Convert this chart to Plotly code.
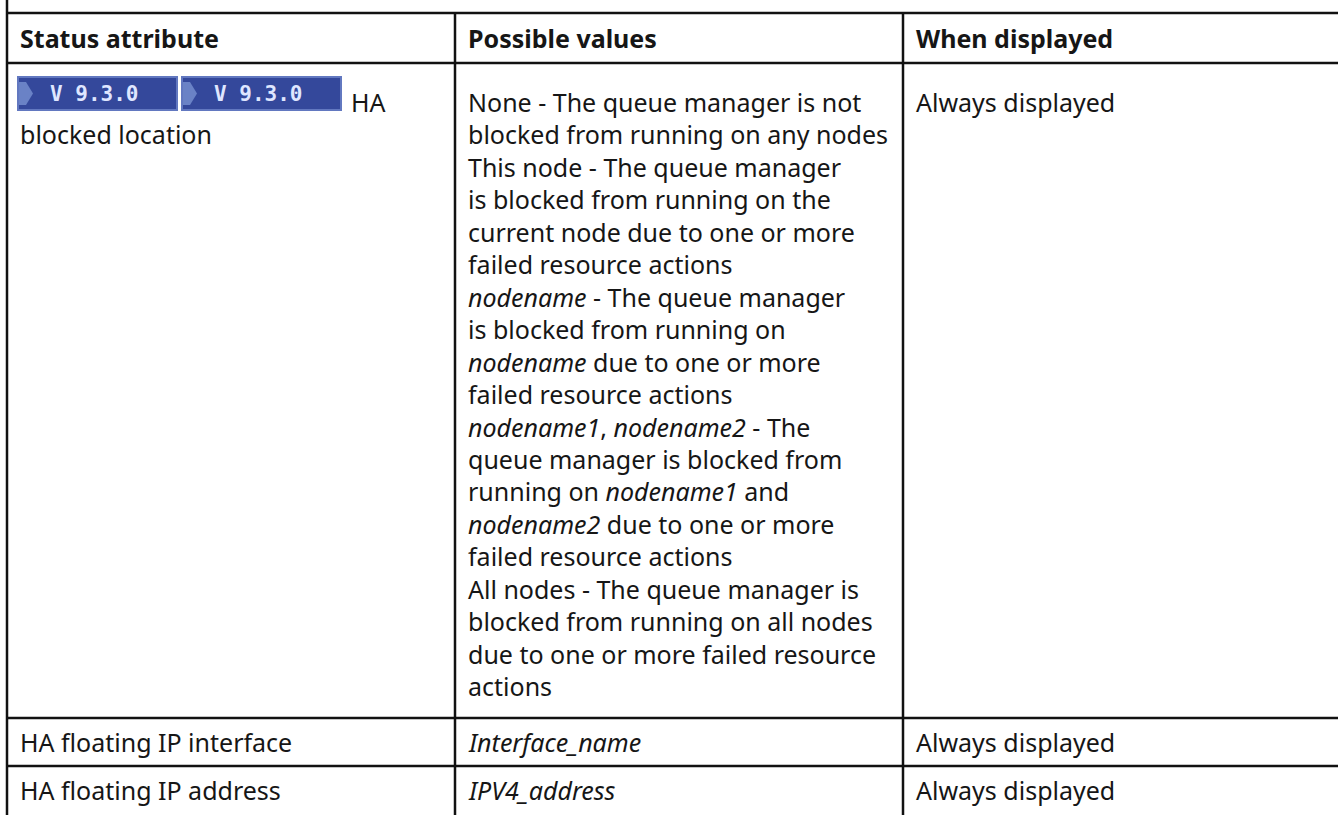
import plotly.graph_objects as go

# ---- data ----
headers = ["Status attribute", "Possible values", "When displayed"]
badge_labels = ["V 9.3.0", "V 9.3.0"]
col1_cells = [
    ["HA", "blocked location"],
    ["HA floating IP interface"],
    ["HA floating IP address"],
]
col2_cells = [
    [
        "None - The queue manager is not",
        "blocked from running on any nodes",
        "This node - The queue manager",
        "is blocked from running on the",
        "current node due to one or more",
        "failed resource actions",
        "<i>nodename</i> - The queue manager",
        "is blocked from running on",
        "<i>nodename</i> due to one or more",
        "failed resource actions",
        "<i>nodename1</i>, <i>nodename2</i> - The",
        "queue manager is blocked from",
        "running on <i>nodename1</i> and",
        "<i>nodename2</i> due to one or more",
        "failed resource actions",
        "All nodes - The queue manager is",
        "blocked from running on all nodes",
        "due to one or more failed resource",
        "actions",
    ],
    ["<i>Interface_name</i>"],
    ["<i>IPV4_address</i>"],
]
col3_cells = [["Always displayed"], ["Always displayed"], ["Always displayed"]]

# ---- layout geometry ----
W, H = 1338, 815
col_x = [7, 455, 903]
row_y = [13, 63, 718, 766]
text_pad = 11
line_h = 32.45
first_offset = [39, 24, 24]
FONT = "Noto Sans, Open Sans, sans-serif"
FS = 25
TXT = "#161616"
LINE = "#111111"

fig = go.Figure()
shapes = []
shapes.append(dict(type="line", x0=col_x[0], x1=col_x[0], y0=0, y1=H, line=dict(color=LINE, width=2.5)))
for cx in col_x[1:]:
    shapes.append(dict(type="line", x0=cx, x1=cx, y0=row_y[0], y1=H, line=dict(color=LINE, width=2.5)))
for ry in row_y:
    shapes.append(dict(type="line", x0=col_x[0], x1=W, y0=ry, y1=ry, line=dict(color=LINE, width=2.5)))

annotations = []
for i, h in enumerate(headers):
    annotations.append(dict(x=col_x[i] + text_pad, y=(row_y[0] + row_y[1]) / 2, text="<b>%s</b>" % h,
                            xanchor="left", yanchor="middle", showarrow=False,
                            font=dict(family=FONT, size=FS, color=TXT)))

row_tops = [row_y[1], row_y[2], row_y[3]]

# badges in first body cell
bx0 = 17
b_w = 161
b_gap = 3
b_top, b_bot = 76, 111
for k, lab in enumerate(badge_labels):
    x0 = bx0 + k * (b_w + b_gap)
    x1 = x0 + b_w
    shapes.append(dict(type="rect", x0=x0, x1=x1, y0=b_top, y1=b_bot, fillcolor="#6278c0", line=dict(width=0)))
    shapes.append(dict(type="rect", x0=x0 + 2, x1=x1 - 2, y0=b_top + 2, y1=b_bot - 2, fillcolor="#34489b", line=dict(width=0)))
    mid = (b_top + b_bot) / 2
    shapes.append(dict(type="path",
                       path="M %f,%f L %f,%f L %f,%f L %f,%f L %f,%f Z" % (
                           x0 + 2, b_top + 6, x0 + 9, b_top + 6, x0 + 16, mid, x0 + 9, b_bot - 6, x0 + 2, b_bot - 6),
                       fillcolor="#6a82c6", line=dict(width=0)))
    annotations.append(dict(x=x0 + 77, y=mid, text="<b>%s</b>" % lab, xanchor="center", yanchor="middle",
                            showarrow=False, font=dict(family="DejaVu Sans Mono", size=21, color="#dfe6ff")))

for r, lines in enumerate(col1_cells):
    for j, ln in enumerate(lines):
        x = col_x[0] + text_pad
        if r == 0 and j == 0:
            x = bx0 + len(badge_labels) * (b_w + b_gap) + 4
        annotations.append(dict(x=x, y=row_tops[r] + first_offset[r] + j * line_h, text=ln,
                                xanchor="left", yanchor="middle", showarrow=False,
                                font=dict(family=FONT, size=FS, color=TXT)))
for c, cells in ((1, col2_cells), (2, col3_cells)):
    for r, lines in enumerate(cells):
        for j, ln in enumerate(lines):
            annotations.append(dict(x=col_x[c] + text_pad, y=row_tops[r] + first_offset[r] + j * line_h, text=ln,
                                    xanchor="left", yanchor="middle", showarrow=False,
                                    font=dict(family=FONT, size=FS, color=TXT)))

fig.update_layout(
    width=W, height=H,
    margin=dict(l=0, r=0, t=0, b=0),
    paper_bgcolor="white", plot_bgcolor="white",
    xaxis=dict(range=[0, W], visible=False, fixedrange=True),
    yaxis=dict(range=[H, 0], visible=False, fixedrange=True),
    shapes=shapes, annotations=annotations, showlegend=False,
)
fig.write_html("out.html", config={"displayModeBar": False},
               post_script="document.body.style.margin='0';document.body.style.overflow='hidden';")
